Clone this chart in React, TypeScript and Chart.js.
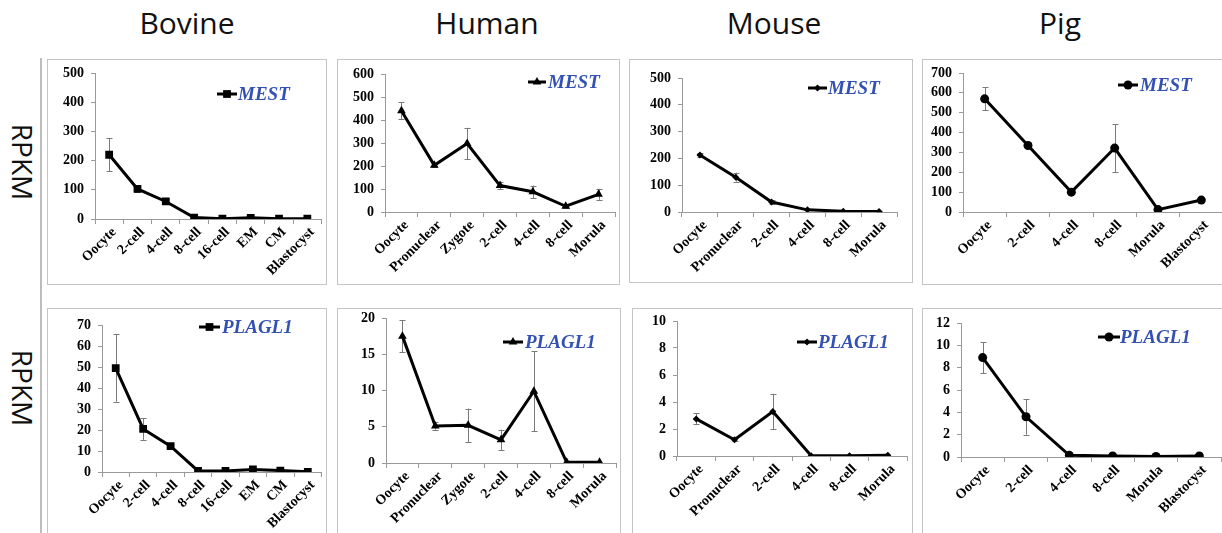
import React, { useEffect, useRef } from "react";
import { Chart, registerables } from "chart.js";

Chart.register(...registerables);

// ---------- data ----------
const speciesTitles = ["Bovine", "Human", "Mouse", "Pig"];
const rowLabel = "RPKM";
const geneRow1 = "MEST";
const geneRow2 = "PLAGL1";

const bovineStages = ["Oocyte", "2-cell", "4-cell", "8-cell", "16-cell", "EM", "CM", "Blastocyst"];
const humanStages = ["Oocyte", "Pronuclear", "Zygote", "2-cell", "4-cell", "8-cell", "Morula"];
const mouseStages = ["Oocyte", "Pronuclear", "2-cell", "4-cell", "8-cell", "Morula"];
const pigStages = ["Oocyte", "2-cell", "4-cell", "8-cell", "Morula", "Blastocyst"];

const bovineMEST = [220, 103, 60, 5, 1, 4, 1, 1];
const bovineMESTErr = [57, 12, 8, 2, 0, 1, 0, 0];
const humanMEST = [440, 203, 298, 115, 88, 25, 77];
const humanMESTErr = [37, 8, 68, 16, 27, 6, 24];
const mouseMEST = [213, 130, 37, 8, 3, 2];
const mouseMESTErr = [8, 17, 6, 2, 1, 1];
const pigMEST = [570, 335, 100, 322, 12, 60];
const pigMESTErr = [58, 10, 8, 120, 3, 8];

const bovinePLAGL1 = [49.5, 20.5, 12.3, 0.5, 0.5, 1.2, 0.7, 0.1];
const bovinePLAGL1Err = [16, 5.2, 1, 0, 0, 0.2, 0, 0];
const humanPLAGL1 = [17.5, 5.1, 5.2, 3.2, 9.9, 0.1, 0.1];
const humanPLAGL1Err = [2.2, 0.5, 2.3, 1.4, 5.5, 0, 0];
const mousePLAGL1 = [2.75, 1.2, 3.3, 0.02, 0.02, 0.05];
const mousePLAGL1Err = [0.4, 0.1, 1.3, 0, 0, 0];
const pigPLAGL1 = [8.9, 3.6, 0.15, 0.1, 0.05, 0.1];
const pigPLAGL1Err = [1.4, 1.6, 0, 0, 0, 0];

const yMaxRow1 = [500, 600, 500, 700];
const yStepRow1 = [100, 100, 100, 100];
const yMaxRow2 = [70, 20, 10, 12];
const yStepRow2 = [10, 5, 2, 2];

// ---------- styles / layout ----------
const markers = [
  { style: "rect", r: 5.5 },
  { style: "triangle", r: 5 },
  { style: "rectRot", r: 3.5 },
  { style: "circle", r: 4.5 },
];

type Layout = {
  box: [number, number, number, number];
  wy: number;
  hx: number;
  pt: number;
  pr: number;
  leg: [number, number, number, number];
};

const layoutsRow1: Layout[] = [
  { box: [47, 59, 280, 226], wy: 48, hx: 66, pt: 14, pr: 4, leg: [170, 190, 35, 191] },
  { box: [337, 59, 283, 226], wy: 48, hx: 73, pt: 15, pr: 2, leg: [191, 209, 23, 211] },
  { box: [629, 59, 284, 224], wy: 53, hx: 71, pt: 19, pr: 16, leg: [179, 198, 29, 199] },
  { box: [922, 59, 310, 226], wy: 41, hx: 73, pt: 14, pr: 9, leg: [196, 216, 26, 218] },
];
const layoutsRow2: Layout[] = [
  { box: [47, 308, 280, 232], wy: 55, hx: 68, pt: 17, pr: 1, leg: [152, 173, 19, 175] },
  { box: [337, 308, 284, 232], wy: 49, hx: 77, pt: 10, pr: 5, leg: [166, 186, 34, 188] },
  { box: [632, 308, 281, 232], wy: 45, hx: 84, pt: 13, pr: 6, leg: [165, 185, 34, 186] },
  { box: [922, 308, 310, 232], wy: 39, hx: 83, pt: 15, pr: 11, leg: [176, 198, 29, 198] },
];

const AXIS_COLOR = "#9a9a9a";
const GENE_COLOR = "#3350b4";
const TICK_FONT = { family: '"Liberation Serif", "Times New Roman", serif', weight: "bold" as const, size: 14 };

type PanelDef = {
  labels: string[];
  values: number[];
  errors: number[];
  gene: string;
  max: number;
  step: number;
  marker: { style: string; r: number };
  layout: Layout;
};

const stagesList = [bovineStages, humanStages, mouseStages, pigStages];
const row1Values = [bovineMEST, humanMEST, mouseMEST, pigMEST];
const row1Errors = [bovineMESTErr, humanMESTErr, mouseMESTErr, pigMESTErr];
const row2Values = [bovinePLAGL1, humanPLAGL1, mousePLAGL1, pigPLAGL1];
const row2Errors = [bovinePLAGL1Err, humanPLAGL1Err, mousePLAGL1Err, pigPLAGL1Err];

const panels: PanelDef[] = [
  ...stagesList.map((labels, i) => ({
    labels,
    values: row1Values[i],
    errors: row1Errors[i],
    gene: geneRow1,
    max: yMaxRow1[i],
    step: yStepRow1[i],
    marker: markers[i],
    layout: layoutsRow1[i],
  })),
  ...stagesList.map((labels, i) => ({
    labels,
    values: row2Values[i],
    errors: row2Errors[i],
    gene: geneRow2,
    max: yMaxRow2[i],
    step: yStepRow2[i],
    marker: markers[i],
    layout: layoutsRow2[i],
  })),
];

function drawMarker(ctx: CanvasRenderingContext2D, style: string, x: number, y: number, r: number) {
  ctx.beginPath();
  if (style === "rect") {
    const s = Math.SQRT1_2 * r;
    ctx.rect(x - s, y - s, 2 * s, 2 * s);
  } else if (style === "triangle") {
    let a = 0;
    ctx.moveTo(x + Math.sin(a) * r, y - Math.cos(a) * r);
    a += (2 * Math.PI) / 3;
    ctx.lineTo(x + Math.sin(a) * r, y - Math.cos(a) * r);
    a += (2 * Math.PI) / 3;
    ctx.lineTo(x + Math.sin(a) * r, y - Math.cos(a) * r);
    ctx.closePath();
  } else if (style === "rectRot") {
    ctx.moveTo(x, y - r);
    ctx.lineTo(x + r, y);
    ctx.lineTo(x, y + r);
    ctx.lineTo(x - r, y);
    ctx.closePath();
  } else {
    ctx.arc(x, y, r, 0, Math.PI * 2);
  }
  ctx.fill();
}

const errorBarPlugin = {
  id: "errorBars",
  beforeDatasetsDraw(chart: any) {
    const ctx = chart.ctx as CanvasRenderingContext2D;
    const ds = chart.data.datasets[0];
    const errs: number[] = ds.errors || [];
    const meta = chart.getDatasetMeta(0);
    const ys = chart.scales.y;
    ctx.save();
    ctx.strokeStyle = "#7a7a7a";
    ctx.lineWidth = 1;
    meta.data.forEach((pt: any, i: number) => {
      const e = errs[i];
      if (!e) return;
      const v = ds.data[i] as number;
      const top = ys.getPixelForValue(v + e);
      const bot = ys.getPixelForValue(Math.max(0, v - e));
      const x = Math.round(pt.x) + 0.5;
      ctx.beginPath();
      ctx.moveTo(x, top);
      ctx.lineTo(x, bot);
      ctx.moveTo(x - 3, Math.round(top) + 0.5);
      ctx.lineTo(x + 3, Math.round(top) + 0.5);
      ctx.moveTo(x - 3, Math.round(bot) + 0.5);
      ctx.lineTo(x + 3, Math.round(bot) + 0.5);
      ctx.stroke();
    });
    ctx.restore();
  },
};

function makeLegendPlugin(p: PanelDef) {
  return {
    id: "geneLegend",
    afterDraw(chart: any) {
      const ctx = chart.ctx as CanvasRenderingContext2D;
      const [x1, x2, y, tx] = p.layout.leg;
      ctx.save();
      ctx.strokeStyle = "#000";
      ctx.lineWidth = 3;
      ctx.beginPath();
      ctx.moveTo(x1, y);
      ctx.lineTo(x2, y);
      ctx.stroke();
      ctx.fillStyle = "#000";
      drawMarker(ctx, p.marker.style, (x1 + x2) / 2, y, p.marker.r);
      ctx.fillStyle = GENE_COLOR;
      ctx.font = 'italic bold 19px "Liberation Serif", "Times New Roman", serif';
      ctx.textBaseline = "middle";
      ctx.textAlign = "left";
      ctx.fillText(p.gene, tx, y + 1);
      ctx.restore();
    },
  };
}

function Panel({ p }: { p: PanelDef }) {
  const ref = useRef<HTMLCanvasElement>(null);
  const [l, t, w, h] = p.layout.box;
  useEffect(() => {
    if (!ref.current) return;
    const L = p.layout;
    const chart = new Chart(ref.current, {
      type: "line",
      data: {
        labels: p.labels,
        datasets: [
          {
            label: p.gene,
            data: p.values,
            errors: p.errors,
            borderColor: "#000",
            backgroundColor: "#000",
            borderWidth: 3,
            pointStyle: p.marker.style,
            pointRadius: p.marker.r,
            pointBorderWidth: 0,
            pointBackgroundColor: "#000",
            tension: 0,
          } as any,
        ],
      },
      options: {
        animation: false,
        responsive: false,
        devicePixelRatio: 1,
        layout: { padding: { top: L.pt, right: L.pr, left: 0, bottom: 0 } },
        plugins: {
          legend: { display: false },
          tooltip: { enabled: false },
        },
        scales: {
          x: {
            offset: true,
            grid: { offset: true, drawOnChartArea: false, drawTicks: true, tickLength: 5, color: AXIS_COLOR },
            border: { color: AXIS_COLOR, width: 1 },
            ticks: {
              minRotation: 45,
              maxRotation: 45,
              autoSkip: false,
              color: "#000",
              font: TICK_FONT,
              padding: 0,
              labelOffset: 5,
            },
            afterFit: (s: any) => {
              s.height = L.hx;
              s.paddingLeft = 0;
              s.paddingRight = 0;
              s.paddingTop = 0;
              s.paddingBottom = 0;
            },
          },
          y: {
            min: 0,
            max: p.max,
            grid: { drawOnChartArea: false, drawTicks: true, tickLength: 4, color: AXIS_COLOR },
            border: { color: AXIS_COLOR, width: 1 },
            ticks: { stepSize: p.step, color: "#000", font: TICK_FONT, padding: 7 },
            afterFit: (s: any) => {
              s.width = L.wy;
              s.paddingLeft = 0;
              s.paddingRight = 0;
              s.paddingTop = 0;
              s.paddingBottom = 0;
            },
          },
        },
      } as any,
      plugins: [errorBarPlugin, makeLegendPlugin(p)],
    });
    return () => chart.destroy();
  }, [p]);
  return (
    <div
      style={{
        position: "absolute",
        left: l,
        top: t,
        width: w,
        height: h,
        boxSizing: "border-box",
        border: "1px solid #c4c4c4",
      }}
    >
      <canvas ref={ref} width={w} height={h} style={{ position: "absolute", left: -1, top: -1 }} />
    </div>
  );
}

const titleCenters = [187, 487, 774, 1060];
const rowLabelCenters = [162, 388];

export default function App() {
  return (
    <div
      style={{
        position: "fixed",
        left: 0,
        top: 0,
        width: 1222,
        height: 533,
        overflow: "hidden",
        background: "#fff",
      }}
    >
      {speciesTitles.map((s, i) => (
        <div
          key={s}
          style={{
            position: "absolute",
            left: titleCenters[i] - 100,
            width: 200,
            top: 3,
            textAlign: "center",
            fontFamily: '"Open Sans", sans-serif',
            fontSize: 30,
            lineHeight: "40px",
            color: "#111",
          }}
        >
          {s}
        </div>
      ))}
      {rowLabelCenters.map((c, i) => (
        <div
          key={i}
          style={{
            position: "absolute",
            left: 23 - 60,
            top: c - 20,
            width: 120,
            height: 40,
            lineHeight: "40px",
            textAlign: "center",
            transform: "rotate(90deg)",
            fontFamily: '"Open Sans", sans-serif',
            fontSize: 28,
            color: "#111",
          }}
        >
          {rowLabel}
        </div>
      ))}
      <div style={{ position: "absolute", left: 40, top: 58, width: 2, height: 480, background: "#bdbdbd" }} />
      {panels.map((p, i) => (
        <Panel key={i} p={p} />
      ))}
    </div>
  );
}
